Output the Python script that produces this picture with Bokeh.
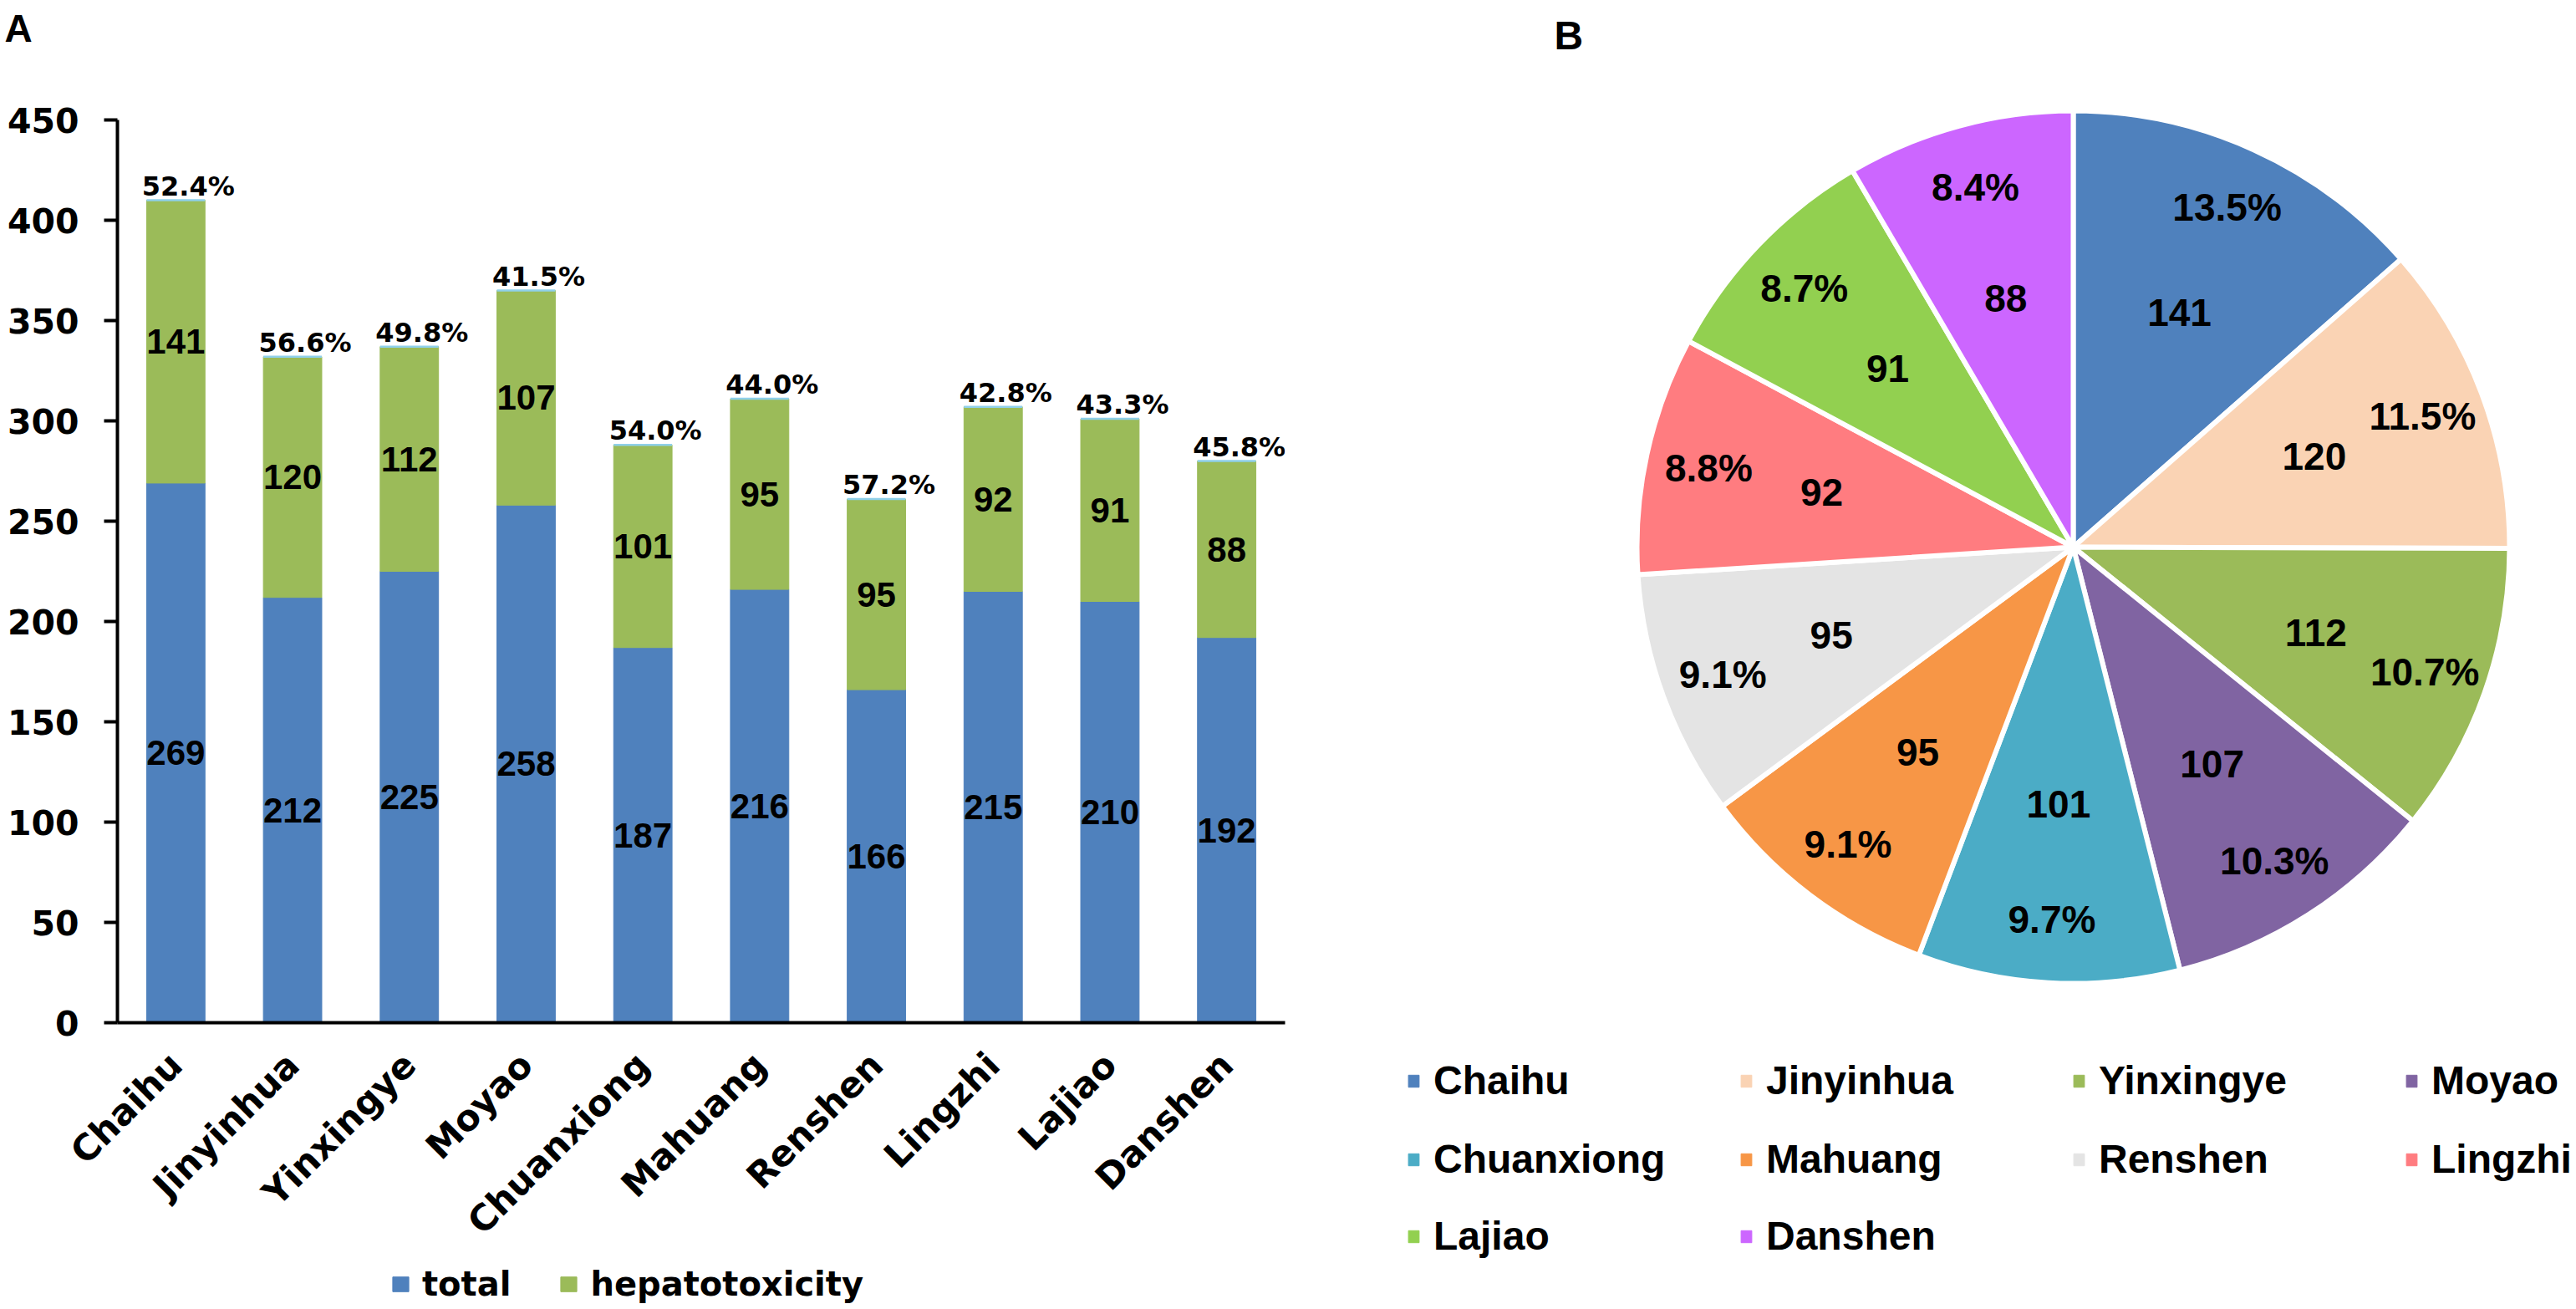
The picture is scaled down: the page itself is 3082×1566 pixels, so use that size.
import math
from bokeh.plotting import figure
from bokeh.layouts import row, column
from bokeh.models import (Range1d, FactorRange, SingleIntervalTicker, Legend, LegendItem, Label)
from bokeh.core.properties import value
from bokeh.embed import file_html
from bokeh.resources import INLINE

# ---------------- data ----------------
herbs = ["Chaihu", "Jinyinhua", "Yinxingye", "Moyao", "Chuanxiong",
         "Mahuang", "Renshen", "Lingzhi", "Lajiao", "Danshen"]
total = [269, 212, 225, 258, 187, 216, 166, 215, 210, 192]
hepatotoxicity = [141, 120, 112, 107, 101, 95, 95, 92, 91, 88]
series_names = ["total", "hepatotoxicity"]
bar_colors = ["#4F81BD", "#9BBB59"]
pie_colors = ["#4F81BD", "#FAD3B4", "#9BBB59", "#8064A2", "#4BACC6",
              "#F79646", "#E4E4E4", "#FF7C80", "#92D050", "#CC66FF"]
y_ticks_step = 50
y_max = 450

BOLD_ARIAL = "Liberation Sans"
WIDE = "DejaVu Sans"


def no_align(fig):
    try:
        fig.frame_align = False
    except Exception:
        pass


def clean(fig):
    fig.outline_line_color = None
    fig.xgrid.grid_line_color = None
    fig.ygrid.grid_line_color = None


PX_PER_UNIT = 2.4
E = 79  # extra frame space above the 450 tick
TOTAL_H = 1566
LEFT_W = 1648

# ---------------- panel A: stacked bars ----------------
tops = [t + h for t, h in zip(total, hepatotoxicity)]
pct_bar = ["%.1f%%" % (100.0 * h / t) for t, h in zip(total, hepatotoxicity)]

p1 = figure(x_range=FactorRange(*herbs, range_padding=0, factor_padding=0),
            y_range=Range1d(0, y_max + E / PX_PER_UNIT),
            frame_width=1397, frame_height=int(y_max * PX_PER_UNIT) + E,
            output_backend="svg", toolbar_location=None,
            min_border_left=140, min_border_right=111,
            min_border_top=0, min_border_bottom=0, title="A")
no_align(p1)
clean(p1)
p1.title.align = "left"
p1.title.offset = -135
p1.title.text_font = BOLD_ARIAL
p1.title.text_font_style = "bold"
p1.title.text_font_size = "46px"
p1.title.text_color = "black"

p1.yaxis.bounds = (0, y_max)
p1.yaxis.ticker = SingleIntervalTicker(interval=y_ticks_step)
p1.yaxis.minor_tick_line_color = None
p1.yaxis.axis_line_width = 4
p1.yaxis.major_tick_line_width = 4
p1.yaxis.major_tick_out = 16
p1.yaxis.major_tick_in = 0
p1.yaxis.major_label_standoff = 30
p1.yaxis.major_label_text_font = WIDE
p1.yaxis.major_label_text_font_style = "bold"
p1.yaxis.major_label_text_font_size = "41px"
p1.yaxis.major_label_text_color = "black"

p1.xaxis.axis_line_width = 4
p1.xaxis.major_tick_line_color = None
p1.xaxis.minor_tick_line_color = None
p1.xaxis.major_label_orientation = math.pi / 4
p1.xaxis.major_label_standoff = 37
p1.xaxis.major_label_text_font = WIDE
p1.xaxis.major_label_text_font_style = "bold"
p1.xaxis.major_label_text_font_size = "43px"
p1.xaxis.major_label_text_color = "black"

p1.vbar(x=herbs, top=total, width=0.5, fill_color=bar_colors[0], line_color=bar_colors[0])
p1.vbar(x=herbs, bottom=total, top=tops, width=0.5, fill_color=bar_colors[1],
        line_color=bar_colors[1])
p1.vbar(x=herbs, bottom=tops, top=tops, width=0.5, fill_alpha=0,
        line_color="#8fd0ea", line_width=2.5)

mid_total = [t / 2.0 for t in total]
mid_hep = [t + h / 2.0 for t, h in zip(total, hepatotoxicity)]
p1.text(x=herbs, y=mid_total, text=[str(v) for v in total],
        text_font=value(BOLD_ARIAL), text_font_style="bold", text_font_size="42px",
        text_align="center", text_baseline="middle", text_color="black")
p1.text(x=herbs, y=mid_hep, text=[str(v) for v in hepatotoxicity],
        text_font=value(BOLD_ARIAL), text_font_style="bold", text_font_size="42px",
        text_align="center", text_baseline="middle", text_color="black")
p1.text(x=herbs, y=tops, text=pct_bar, x_offset=15, y_offset=-17,
        text_font=value(WIDE), text_font_style="bold", text_font_size="32px",
        text_align="center", text_baseline="alphabetic", text_color="black")

# legend strip under panel A
LEG_H = 60
pleg = figure(x_range=Range1d(0, 1), y_range=Range1d(0, 1), frame_width=1397, height=LEG_H,
              output_backend="svg", toolbar_location=None,
              x_axis_type=None, y_axis_type=None,
              min_border_left=140, min_border_right=111, min_border_top=0, min_border_bottom=0)
no_align(pleg)
clean(pleg)
swatch_a = pleg.vbar(x=[0, 0], top=[0, 0], width=0, fill_color=bar_colors,
                     line_color=bar_colors)
leg1 = Legend(items=[LegendItem(label=series_names[i], renderers=[swatch_a], index=i)
                     for i in range(2)],
              location=(327, 7), orientation="horizontal",
              glyph_width=24, glyph_height=22, label_standoff=14, spacing=57,
              padding=0, margin=0, border_line_color=None, background_fill_alpha=0,
              label_text_font=WIDE, label_text_font_style="bold",
              label_text_font_size="40px", label_text_color="black")
pleg.add_layout(leg1)

# ---------------- panel B: pie ----------------
W2, H2 = 3082 - LEFT_W, TOTAL_H
p2 = figure(x_range=Range1d(0, W2), y_range=Range1d(0, H2), width=W2, height=H2,
            output_backend="svg", toolbar_location=None,
            x_axis_type=None, y_axis_type=None, min_border=0)
no_align(p2)
clean(p2)

cx, cy, R = 832, 912, 522
s = float(sum(hepatotoxicity))
fracs = [v / s for v in hepatotoxicity]
cum = [0.0]
for f in fracs:
    cum.append(cum[-1] + f)
start_a = [math.pi / 2 - cum[i + 1] * 2 * math.pi for i in range(len(fracs))]
end_a = [math.pi / 2 - cum[i] * 2 * math.pi for i in range(len(fracs))]
p2.wedge(x=cx, y=cy, radius=R, start_angle=start_a, end_angle=end_a,
         direction="anticlock", fill_color=pie_colors, line_color="white",
         line_width=6)

mid_theta = [(cum[i] + fracs[i] / 2) * 2 * math.pi for i in range(len(fracs))]
rv, rp = 0.59 * R, 0.855 * R
vx = [cx + rv * math.sin(t) for t in mid_theta]
vy = [cy + rv * math.cos(t) for t in mid_theta]
px = [cx + rp * math.sin(t) for t in mid_theta]
py = [cy + rp * math.cos(t) for t in mid_theta]
pct_pie = ["%.1f%%" % (100 * f) for f in fracs]
p2.text(x=vx, y=vy, text=[str(v) for v in hepatotoxicity],
        text_font=value(BOLD_ARIAL), text_font_style="bold", text_font_size="46px",
        text_align="center", text_baseline="middle", text_color="black")
p2.text(x=px, y=py, text=pct_pie,
        text_font=value(BOLD_ARIAL), text_font_style="bold", text_font_size="46px",
        text_align="center", text_baseline="middle", text_color="black")

# legend swatches (zero-size bars, one per herb, drawn only in the legend)
swatch_b = p2.vbar(x=[0] * len(herbs), top=[0] * len(herbs), width=0,
                   fill_color=pie_colors, line_color=pie_colors)
row_bottoms = [246, 152, 60]
for rix in range(3):
    items = []
    for j in range(4):
        k = rix * 4 + j
        if k < len(herbs):
            items.append(LegendItem(label=herbs[k], renderers=[swatch_b], index=k))
    lg = Legend(items=items, location=(35, row_bottoms[rix]), orientation="horizontal",
                glyph_width=16, glyph_height=18, label_standoff=16, spacing=0,
                label_width=366, padding=0, margin=0, border_line_color=None,
                background_fill_alpha=0, label_text_font=BOLD_ARIAL,
                label_text_font_style="bold", label_text_font_size="48px",
                label_text_color="black")
    p2.add_layout(lg)

p2.add_layout(Label(x=211, y=H2 - 42, text="B", text_font=BOLD_ARIAL,
                    text_baseline="alphabetic",
                    text_font_style="bold", text_font_size="48px", text_color="black"))

layout = row(column(p1, pleg), p2)
open("out.html", "w").write(file_html(layout, INLINE))
